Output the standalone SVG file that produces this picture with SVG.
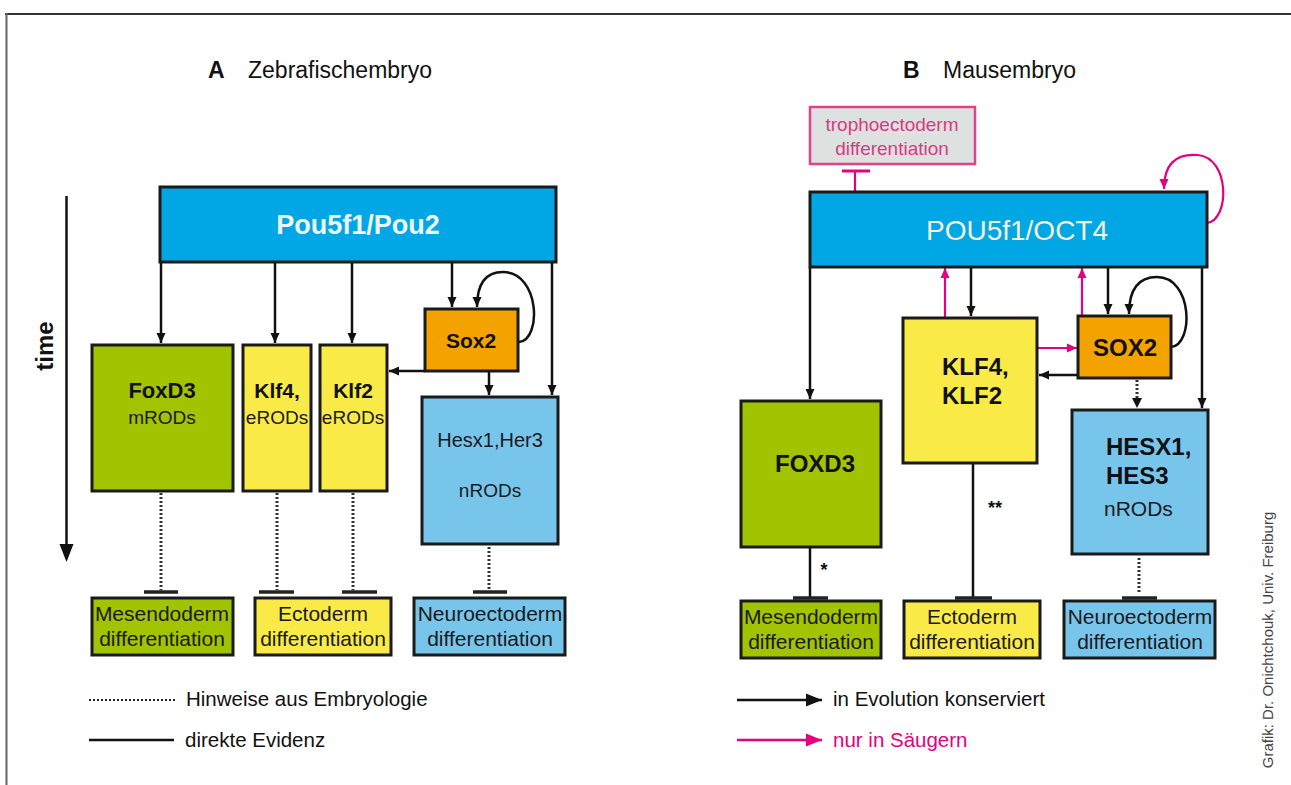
<svg xmlns="http://www.w3.org/2000/svg" width="1291" height="785" viewBox="0 0 1291 785">
<defs>
<style>
text{font-family:"Liberation Sans",Arial,sans-serif}
.box{stroke:#1a1a1a;stroke-width:3}
.pou{fill:#00a7e4}
.grn{fill:#a2c300}
.yel{fill:#f9ea48}
.org{fill:#f4a200}
.lbl{fill:#78c5ec}
.ln{stroke:#111;stroke-width:2.5;fill:none}
.pk{stroke:#e6007e;stroke-width:2.2;fill:none}
.dot{stroke:#333;stroke-width:3;stroke-dasharray:2 2;fill:none}
.tbar{stroke:#222;stroke-width:3.5}
.b{font-weight:bold;fill:#111}
.r{fill:#1a1a1a}
.c{text-anchor:middle}
.bt{font-size:21px}
</style>
<marker id="ah" markerUnits="userSpaceOnUse" markerWidth="10" markerHeight="10" refX="10" refY="5" orient="auto"><path d="M0,0.5 L10,5 L0,9.5 z" fill="#111"/></marker>
<marker id="ahp" markerUnits="userSpaceOnUse" markerWidth="10" markerHeight="10" refX="10" refY="5" orient="auto"><path d="M0,0.5 L10,5 L0,9.5 z" fill="#e6007e"/></marker>
<marker id="ahl" markerUnits="userSpaceOnUse" markerWidth="16" markerHeight="14" refX="16" refY="7" orient="auto"><path d="M0,0.5 L16,7 L0,13.5 z" fill="#111"/></marker>
<marker id="ahlp" markerUnits="userSpaceOnUse" markerWidth="16" markerHeight="14" refX="16" refY="7" orient="auto"><path d="M0,0.5 L16,7 L0,13.5 z" fill="#e6007e"/></marker>
</defs>
<rect width="1291" height="785" fill="#fff"/>
<g id="frame">
<line x1="5" y1="14" x2="1291" y2="14" stroke="#333" stroke-width="2"/>
<line x1="6.5" y1="13" x2="6.5" y2="785" stroke="#666" stroke-width="2"/>
</g>
<g id="titles">
<text x="208" y="78" font-size="23" class="b">A</text>
<text x="248" y="78" font-size="23" fill="#111">Zebrafischembryo</text>
<text x="903" y="78" font-size="23" class="b">B</text>
<text x="943" y="78" font-size="23" fill="#111">Mausembryo</text>
</g>
<g id="time">
<line x1="66.5" y1="196" x2="66.5" y2="548" stroke="#111" stroke-width="2.5"/>
<path d="M59.5,544 L73.5,544 L66.5,562 z" fill="#111"/>
<text transform="translate(53,346) rotate(-90)" font-size="24" class="b c">time</text>
</g>
<g id="connectors">
<line class="ln" x1="161" y1="262" x2="161" y2="343" marker-end="url(#ah)"/>
<line class="ln" x1="275" y1="262" x2="275" y2="343" marker-end="url(#ah)"/>
<line class="ln" x1="352" y1="262" x2="352" y2="343" marker-end="url(#ah)"/>
<line class="ln" x1="452" y1="262" x2="452" y2="307" marker-end="url(#ah)"/>
<line class="ln" x1="552" y1="262" x2="552" y2="395" marker-end="url(#ah)"/>
<path class="ln" d="M519,342 C542,340 540,272 503,272 C483,272 477,288 477,307" marker-end="url(#ah)"/>
<line class="ln" x1="425" y1="371" x2="389" y2="371" marker-end="url(#ah)"/>
<line class="ln" x1="489" y1="372" x2="489" y2="395" marker-end="url(#ah)"/>
<line class="dot" x1="161" y1="493" x2="161" y2="590"/>
<line class="dot" x1="277" y1="493" x2="277" y2="590"/>
<line class="dot" x1="353" y1="493" x2="353" y2="590"/>
<line class="dot" x1="489" y1="547" x2="489" y2="590"/>
<line class="tbar" x1="144" y1="592" x2="178" y2="592"/>
<line class="tbar" x1="259" y1="592" x2="294" y2="592"/>
<line class="tbar" x1="342" y1="592" x2="377" y2="592"/>
<line class="tbar" x1="473" y1="592" x2="507" y2="592"/>
<line class="ln" x1="810" y1="267" x2="810" y2="399" marker-end="url(#ah)"/>
<line class="pk" x1="945" y1="317" x2="945" y2="268" marker-end="url(#ahp)"/>
<line class="ln" x1="971" y1="267" x2="971" y2="316" marker-end="url(#ah)"/>
<line class="pk" x1="1082" y1="315" x2="1082" y2="268" marker-end="url(#ahp)"/>
<line class="ln" x1="1108" y1="267" x2="1108" y2="314" marker-end="url(#ah)"/>
<path class="ln" d="M1171,347 C1194,345 1193,277 1157,277 C1136,277 1129,292 1129,314" marker-end="url(#ah)"/>
<line class="ln" x1="1202" y1="267" x2="1202" y2="408" marker-end="url(#ah)"/>
<line class="pk" x1="1038" y1="348" x2="1077" y2="348" marker-end="url(#ahp)"/>
<line class="ln" x1="1078" y1="375" x2="1039" y2="375" marker-end="url(#ah)"/>
<line class="dot" x1="1137" y1="380" x2="1137" y2="400"/>
<path d="M1132,398 L1142,398 L1137,408 z" fill="#111"/>
<path class="pk" d="M1207,223 C1230,220 1230,158 1198,155 C1174,153 1164,166 1164,189" marker-end="url(#ahp)"/>
<line class="pk" x1="855" y1="191" x2="855" y2="171"/>
<line x1="842" y1="171" x2="870" y2="171" stroke="#e6007e" stroke-width="3"/>
<line class="ln" x1="810" y1="547" x2="810" y2="597"/>
<line class="tbar" x1="793" y1="598" x2="828" y2="598"/>
<line class="ln" x1="973" y1="463" x2="973" y2="597"/>
<line class="tbar" x1="955" y1="598" x2="992" y2="598"/>
<line class="dot" x1="1139" y1="558" x2="1139" y2="593"/>
<line class="tbar" x1="1122" y1="598" x2="1157" y2="598"/>
<text x="824" y="576" font-size="18" class="b c">*</text>
<text x="995" y="514" font-size="18" class="b c">**</text>
</g>
<g id="nodeA_pou"><rect class="box pou" x="160" y="187" width="396" height="75"/><text x="358" y="234" font-size="27" class="b c" style="fill:#eef6fa">Pou5f1/Pou2</text></g>
<g id="nodeA_sox2"><rect class="box org" x="425" y="309" width="93" height="62"/><text x="471" y="348" font-size="21" class="b c">Sox2</text></g>
<g id="nodeA_foxd3"><rect class="box grn" x="92" y="345" width="141" height="146"/><text x="162" y="398" font-size="22" class="b c">FoxD3</text><text x="162" y="424" font-size="19" class="r c">mRODs</text></g>
<g id="nodeA_klf4"><rect class="box yel" x="243" y="345" width="68" height="146"/><text x="277" y="398" font-size="21" class="b c">Klf4,</text><text x="277" y="424" font-size="19" class="r c">eRODs</text></g>
<g id="nodeA_klf2"><rect class="box yel" x="320" y="345" width="67" height="146"/><text x="353" y="398" font-size="21" class="b c">Klf2</text><text x="353" y="424" font-size="19" class="r c">eRODs</text></g>
<g id="nodeA_hesx1"><rect class="box lbl" x="422" y="397" width="136" height="147"/><text x="490" y="447" font-size="20" class="r c">Hesx1,Her3</text><text x="490" y="497" font-size="19" class="r c">nRODs</text></g>
<g id="nodeA_meso"><rect class="box grn" x="92" y="598" width="141" height="57"/><text x="162" y="621" class="r c bt">Mesendoderm</text><text x="162" y="646" class="r c bt">differentiation</text></g>
<g id="nodeA_ecto"><rect class="box yel" x="255" y="598" width="136" height="57"/><text x="323" y="621" class="r c bt">Ectoderm</text><text x="323" y="646" class="r c bt">differentiation</text></g>
<g id="nodeA_neuro"><rect class="box lbl" x="414" y="598" width="151" height="57"/><text x="490" y="621" class="r c bt">Neuroectoderm</text><text x="490" y="646" class="r c bt">differentiation</text></g>
<g id="nodeB_troph"><rect x="810" y="107" width="165" height="57" fill="#dde1e0" stroke="#e2418c" stroke-width="2.5"/><text x="892" y="131" font-size="19" class="c" fill="#d93a84">trophoectoderm</text><text x="892" y="155" font-size="19" class="c" fill="#d93a84">differentiation</text></g>
<g id="nodeB_pou"><rect class="box pou" x="810" y="192" width="397" height="75"/><text x="1017" y="240" font-size="28" class="c" fill="#f2f2dc">POU5f1/OCT4</text></g>
<g id="nodeB_klf"><rect class="box yel" x="903" y="318" width="134" height="145"/><text x="942" y="375" font-size="24" class="b">KLF4,</text><text x="942" y="404" font-size="24" class="b">KLF2</text></g>
<g id="nodeB_sox2"><rect class="box org" x="1078" y="316" width="93" height="62"/><text x="1125" y="356" font-size="24" class="b c">SOX2</text></g>
<g id="nodeB_foxd3"><rect class="box grn" x="741" y="401" width="140" height="146"/><text x="815" y="472" font-size="24" class="b c">FOXD3</text></g>
<g id="nodeB_hesx1"><rect class="box lbl" x="1072" y="410" width="136" height="144"/><text x="1106" y="455" font-size="24" class="b">HESX1,</text><text x="1106" y="484" font-size="24" class="b">HES3</text><text x="1104" y="516" font-size="21" class="r">nRODs</text></g>
<g id="nodeB_meso"><rect class="box grn" x="741" y="601" width="140" height="57"/><text x="811" y="624" class="r c bt">Mesendoderm</text><text x="811" y="649" class="r c bt">differentiation</text></g>
<g id="nodeB_ecto"><rect class="box yel" x="904" y="601" width="136" height="57"/><text x="972" y="624" class="r c bt">Ectoderm</text><text x="972" y="649" class="r c bt">differentiation</text></g>
<g id="nodeB_neuro"><rect class="box lbl" x="1064" y="601" width="151" height="57"/><text x="1140" y="624" class="r c bt">Neuroectoderm</text><text x="1140" y="649" class="r c bt">differentiation</text></g>
<g id="legend">
<line x1="89" y1="700" x2="175" y2="700" stroke="#222" stroke-width="2" stroke-dasharray="2 2"/>
<text x="186" y="706" font-size="20.5" fill="#111">Hinweise aus Embryologie</text>
<line x1="89" y1="740" x2="174" y2="740" stroke="#111" stroke-width="2.5"/>
<text x="185" y="747" font-size="20.5" fill="#111">direkte Evidenz</text>
<line x1="737" y1="700" x2="822" y2="700" stroke="#111" stroke-width="2.5" marker-end="url(#ahl)"/>
<text x="833" y="706" font-size="20.5" fill="#111">in Evolution konserviert</text>
<line x1="737" y1="740" x2="822" y2="740" stroke="#e6007e" stroke-width="2.5" marker-end="url(#ahlp)"/>
<text x="833" y="747" font-size="20.5" fill="#e6007e">nur in Säugern</text>
</g>
<text transform="translate(1273,640) rotate(-90)" font-size="15" class="c" fill="#444">Grafik: Dr. Onichtchouk, Univ. Freiburg</text>
</svg>
